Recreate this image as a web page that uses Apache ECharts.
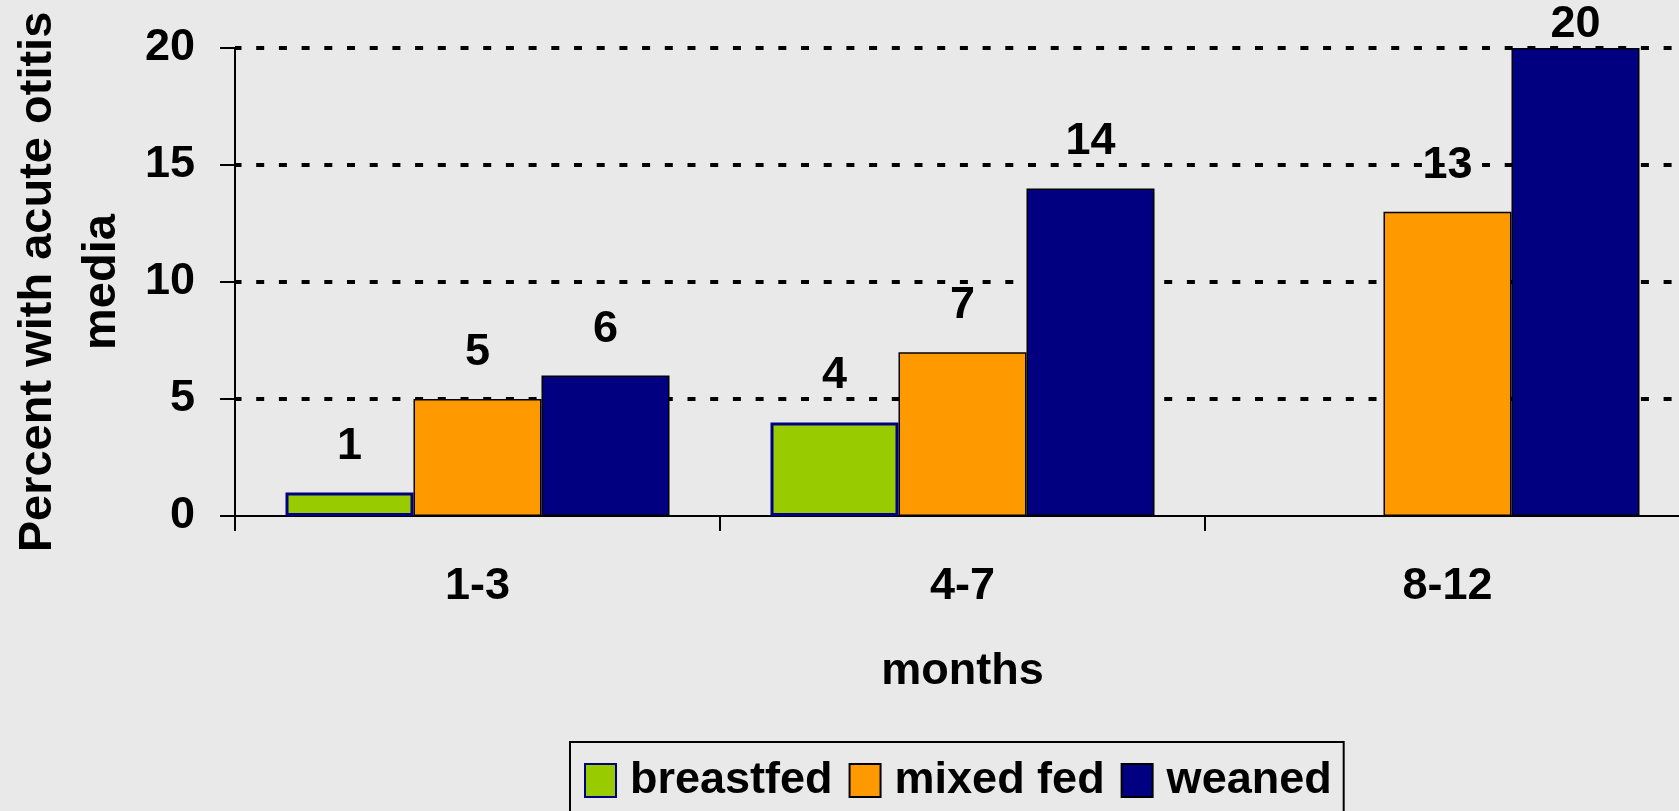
<!DOCTYPE html>
<html>
<head>
<meta charset="utf-8">
<script src="https://cdn.jsdelivr.net/npm/echarts@6/dist/echarts.min.js"></script>
<style>
  html, body { margin: 0; padding: 0; background: #e9e9e9; }
  #chart { width: 1679px; height: 811px; }
</style>
</head>
<body>
<div id="chart"></div>
<script>
var months = ['1-3', '4-7', '8-12'];
var breastfed = [1, 4, null];
var mixedFed = [5, 7, 13];
var weaned = [6, 14, 20];

var FONT = '"Liberation Sans", Arial, sans-serif';
var yMax = 20;

function withLabels(values) {
    // the 20 label sits right on the bar, the rest float a bit higher
    return values.map(function (v) {
        return { value: v, label: { distance: v >= yMax ? 1 : 24 } };
    });
}

var labelStyle = {
    show: true,
    position: 'top',
    color: '#000',
    fontFamily: FONT,
    fontWeight: 'bold',
    fontSize: 45
};

var myChart = echarts.init(document.getElementById('chart'));
myChart.setOption({
    animation: false,
    backgroundColor: '#e9e9e9',
    grid: {
        left: 235,
        right: -11,
        top: 48,
        bottom: 295,
        containLabel: false,
        outerBoundsMode: 'none'
    },
    legend: {
        left: 570,
        top: 742,
        orient: 'horizontal',
        icon: 'rect',
        itemWidth: 31,
        itemHeight: 33,
        itemGap: 16,
        padding: [16, 12, 30, 14],
        borderColor: '#000',
        borderWidth: 2,
        textStyle: {
            color: '#000',
            fontFamily: FONT,
            fontWeight: 'bold',
            fontSize: 45,
            padding: [0, 0, 0, 9]
        },
        data: ['breastfed', 'mixed fed', 'weaned']
    },
    xAxis: {
        type: 'category',
        data: months,
        name: 'months',
        nameLocation: 'middle',
        nameGap: 133,
        nameTextStyle: { color: '#000', fontFamily: FONT, fontWeight: 'bold', fontSize: 45 },
        axisLine: { lineStyle: { color: '#000', width: 2 } },
        axisTick: { show: true, length: 15, lineStyle: { color: '#000', width: 2 } },
        axisLabel: { color: '#000', fontFamily: FONT, fontWeight: 'bold', fontSize: 45, margin: 48 },
        splitLine: { show: false }
    },
    yAxis: {
        type: 'value',
        min: 0,
        max: yMax,
        interval: 5,
        name: 'Percent with acute otitis\nmedia',
        nameLocation: 'middle',
        nameRotate: 90,
        nameGap: 100,
        nameTextStyle: { color: '#000', fontFamily: FONT, fontWeight: 'bold', fontSize: 47, lineHeight: 64 },
        axisLine: { show: true, lineStyle: { color: '#000', width: 2 } },
        axisTick: { show: true, length: 15, lineStyle: { color: '#000', width: 2 } },
        axisLabel: { color: '#000', fontFamily: FONT, fontWeight: 'bold', fontSize: 45, margin: 40 },
        splitLine: {
            show: true,
            showMinLine: false,
            lineStyle: { color: '#000', width: 4, type: [8, 14.7], dashOffset: 1.5 }
        }
    },
    series: [
        {
            name: 'breastfed',
            type: 'bar',
            barWidth: 128,
            barGap: '0%',
            data: withLabels(breastfed),
            label: labelStyle,
            itemStyle: { color: '#99cc00', borderColor: '#000080', borderWidth: 3 }
        },
        {
            name: 'mixed fed',
            type: 'bar',
            barWidth: 128,
            barGap: '0%',
            data: withLabels(mixedFed),
            label: labelStyle,
            itemStyle: { color: '#ff9900', borderColor: '#000', borderWidth: 1.5 }
        },
        {
            name: 'weaned',
            type: 'bar',
            barWidth: 128,
            barGap: '0%',
            data: withLabels(weaned),
            label: labelStyle,
            itemStyle: { color: '#000080', borderColor: '#000', borderWidth: 1.5 }
        }
    ]
});
</script>
</body>
</html>
